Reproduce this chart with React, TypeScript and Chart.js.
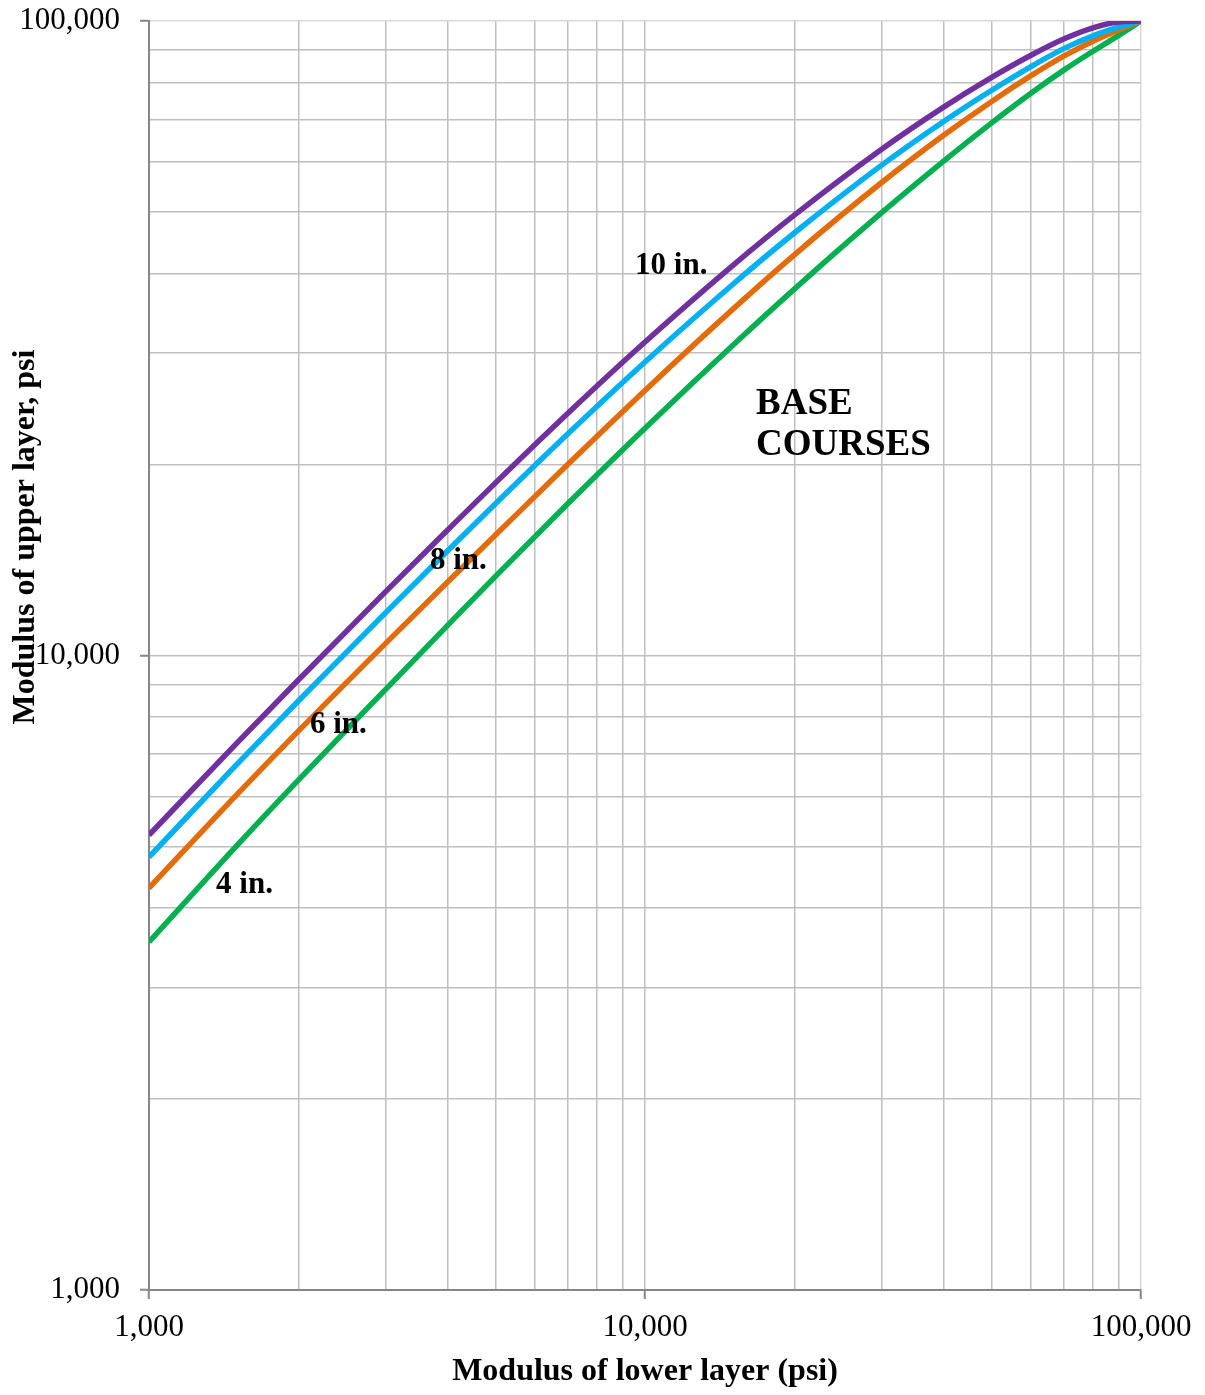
import React, { useEffect, useRef } from "react";
import { Chart, registerables } from "chart.js";

Chart.register(...registerables);

// ---- data ----
const lowerModulus = [
  1000, 1500, 2000, 3000, 4000, 5000, 7000, 10000, 15000,
  20000, 30000, 40000, 50000, 60000, 70000, 80000, 90000, 100000,
];
const upper10in = [
  5213, 7263, 9149, 12606, 15769, 18728, 24114, 31195, 41132,
  49441, 62799, 73165, 81490, 88295, 93745, 97564, 99637, 100000,
];
const upper8in = [
  4813, 6723, 8478, 11683, 14622, 17361, 22377, 29011, 38399,
  46332, 59266, 69453, 77779, 84765, 90536, 94754, 97776, 100000,
];
const upper6in = [
  4301, 6023, 7598, 10449, 13057, 15496, 20036, 26170, 35088,
  42808, 55651, 66048, 74694, 81996, 88121, 92947, 96699, 100000,
];
const upper4in = [
  3536, 5007, 6362, 8844, 11156, 13340, 17373, 22816, 30779,
  37797, 49874, 60145, 69113, 76950, 83739, 89605, 94822, 100000,
];

const seriesNames = ["10 in.", "8 in.", "6 in.", "4 in."];
const seriesColors = ["#7030A0", "#00B0F0", "#E36C09", "#00B050"];

const gridValues = [
  1000, 2000, 3000, 4000, 5000, 6000, 7000, 8000, 9000,
  10000, 20000, 30000, 40000, 50000, 60000, 70000, 80000, 90000, 100000,
];
const majorValues = [1000, 10000, 100000];
const majorLabels = ["1,000", "10,000", "100,000"];

// curve annotations (data coordinates)
const curveLabelX = [9550, 3686, 2111, 1365];
const curveLabelY = [41100, 14090, 7770, 4350];
const regionLabel = ["BASE", "COURSES"];
const regionLabelX = [16740, 16740];
const regionLabelY = [24910, 21400];

const xTitle = "Modulus of lower layer (psi)";
const yTitle = "Modulus of upper layer, psi";

const FONT = '"Liberation Serif", "Times New Roman", serif';

export default function App() {
  const ref = useRef<HTMLCanvasElement>(null);

  useEffect(() => {
    const canvas = ref.current;
    if (!canvas) return;
    const seriesValues = [upper10in, upper8in, upper6in, upper4in];

    const annotations = {
      id: "annotations",
      afterDatasetsDraw(chart: any) {
        const { ctx, scales } = chart;
        const xs = scales.x;
        const ys = scales.y;
        ctx.save();
        ctx.fillStyle = "#000";
        ctx.textAlign = "left";
        ctx.textBaseline = "middle";
        ctx.font = `bold 31px ${FONT}`;
        seriesNames.forEach((name, i) => {
          ctx.fillText(name, xs.getPixelForValue(curveLabelX[i]), ys.getPixelForValue(curveLabelY[i]));
        });
        ctx.font = `bold 37px ${FONT}`;
        regionLabel.forEach((t, i) => {
          ctx.fillText(t, xs.getPixelForValue(regionLabelX[i]), ys.getPixelForValue(regionLabelY[i]));
        });
        ctx.restore();
      },
      afterDraw(chart: any) {
        const { ctx } = chart;
        ctx.save();
        ctx.fillStyle = "#000";
        ctx.font = `bold 32px ${FONT}`;
        ctx.textAlign = "center";
        ctx.textBaseline = "middle";
        ctx.fillText(xTitle, 645, 1372);
        ctx.translate(26, 537);
        ctx.rotate(-Math.PI / 2);
        ctx.fillText(yTitle, 0, 0);
        ctx.restore();
      },
    };

    const gridColor = (c: any) =>
      c.tick && c.tick.value === 100000 ? "#d9d9d9" : "#bfbfbf";
    const tickColor = (c: any) =>
      c.tick && majorValues.includes(c.tick.value) ? "#868686" : "rgba(0,0,0,0)";
    const label = (v: any) => {
      const idx = majorValues.indexOf(Number(v));
      return idx >= 0 ? majorLabels[idx] : "";
    };
    const setTicks = (scale: any) => {
      scale.ticks = gridValues.map((v) => ({ value: v, major: majorValues.includes(v) }));
    };

    const chart = new Chart(canvas, {
      type: "line",
      data: {
        datasets: seriesNames.map((name, i) => ({
          label: name,
          data: lowerModulus.map((x, j) => ({ x, y: seriesValues[i][j] })),
          borderColor: seriesColors[i],
          backgroundColor: seriesColors[i],
          borderWidth: 5.5,
          pointRadius: 0,
          fill: false,
          cubicInterpolationMode: "monotone",
          clip: { left: 0, top: 0, right: 0, bottom: 0 },
        })),
      },
      options: {
        animation: false,
        responsive: false,
        devicePixelRatio: 1,
        layout: { padding: { top: 21, right: 64, left: 0, bottom: 0 } },
        plugins: { legend: { display: false }, tooltip: { enabled: false }, title: { display: false } },
        scales: {
          x: {
            type: "logarithmic",
            min: 1000,
            max: 100000,
            afterBuildTicks: setTicks,
            afterFit: (s: any) => {
              s.height = 105;
              s.paddingLeft = 0;
              s.paddingRight = 0;
            },
            grid: { color: gridColor, lineWidth: 1.5, tickLength: 9, tickColor, tickWidth: 2 },
            border: { display: true, color: "#868686", width: 2 },
            ticks: {
              autoSkip: false,
              maxRotation: 0,
              minRotation: 0,
              padding: 10,
              color: "#000",
              font: { family: FONT, size: 31 },
              callback: label,
            },
          },
          y: {
            type: "logarithmic",
            min: 1000,
            max: 100000,
            afterBuildTicks: setTicks,
            afterFit: (s: any) => {
              s.width = 149;
              s.paddingTop = 0;
              s.paddingBottom = 0;
            },
            grid: { color: gridColor, lineWidth: 1.5, tickLength: 9, tickColor, tickWidth: 2 },
            border: { display: true, color: "#868686", width: 2 },
            ticks: {
              autoSkip: false,
              padding: 20,
              color: "#000",
              font: { family: FONT, size: 31 },
              callback: label,
            },
          },
        },
      },
      plugins: [annotations],
    } as any);

    return () => chart.destroy();
  }, []);

  return (
    <div style={{ position: "absolute", left: 0, top: 0, width: 1205, height: 1395, background: "#fff" }}>
      <canvas ref={ref} width={1205} height={1395} style={{ display: "block", width: 1205, height: 1395 }} />
    </div>
  );
}
